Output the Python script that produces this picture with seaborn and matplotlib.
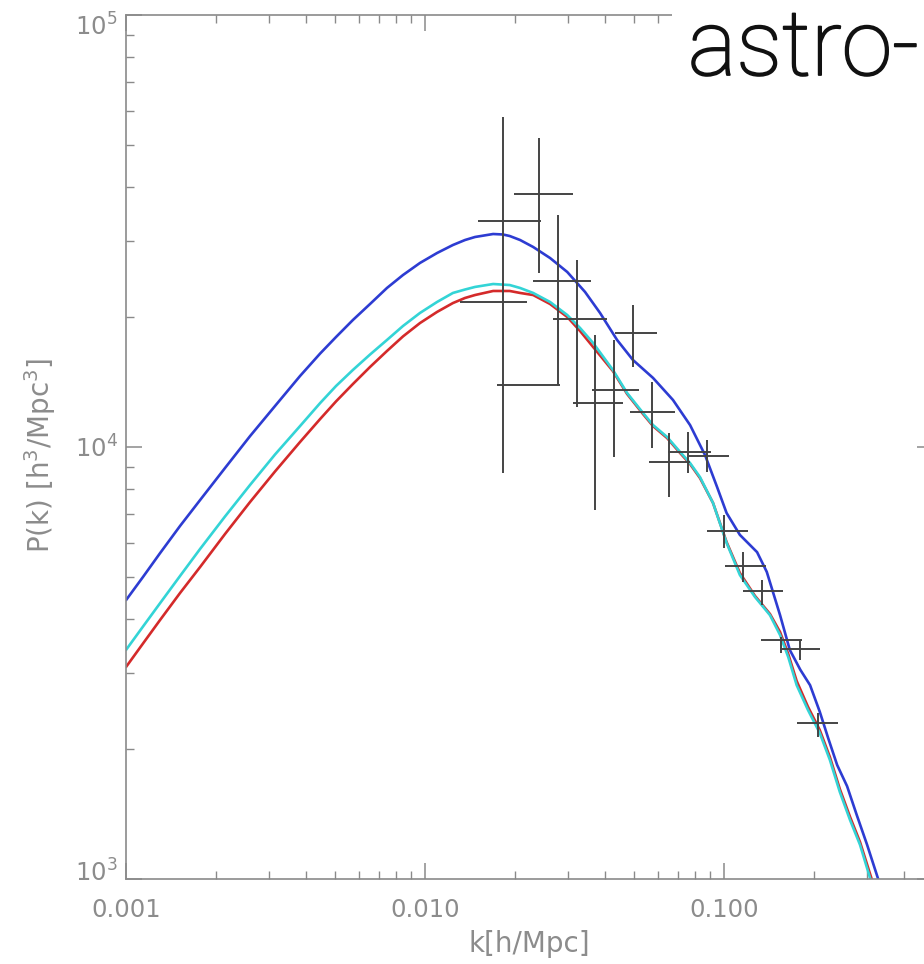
import numpy as np
import pandas as pd
import matplotlib
matplotlib.use("Agg")
import matplotlib.pyplot as plt
import matplotlib.ticker as mticker
import matplotlib.transforms as mtrans
import matplotlib.patheffects as pe
import seaborn as sns

# ---------------- model curves ----------------
k_blue = [0.00100, 0.00114, 0.00130, 0.001516, 0.00177, 0.002144, 0.00260, 0.00315, 0.00382, 0.00446,
          0.005039, 0.00574, 0.006549, 0.00746, 0.008441, 0.00962,
          0.01097, 0.0124, 0.01361, 0.0147, 0.0169, 0.01823, 0.0192, 0.0208, 0.0230, 0.0262,
          0.0299, 0.0343, 0.0385, 0.0439, 0.0496, 0.0579, 0.0675, 0.0770, 0.0864, 0.0948,
          0.102, 0.113, 0.129, 0.139, 0.154, 0.166, 0.180, 0.194, 0.209, 0.223,
          0.239, 0.258, 0.278, 0.301, 0.327, 0.354]
P_blue = [4420, 5003, 5680, 6564, 7540, 8942, 10600, 12440, 14600, 16460,
          17970, 19680, 21430, 23340, 25010, 26670,
          28120, 29350, 30140, 30630, 31120, 31040, 30790, 30140, 29040, 27380,
          25420, 22850, 20430, 17690, 15900, 14450, 12850, 11240, 9580, 8080,
          7035, 6260, 5710, 5140, 4080, 3390, 3050, 2810, 2440, 2120,
          1836, 1640, 1406, 1200, 1005, 857]

k_model = [0.00100, 0.00114, 0.00130, 0.001516, 0.00177, 0.002144, 0.00260, 0.00315, 0.00382, 0.00446,
           0.005039, 0.00574, 0.006549, 0.00746, 0.008441, 0.00962,
           0.01097, 0.0124, 0.01361, 0.0147, 0.0169, 0.0192, 0.0208, 0.0230, 0.0262, 0.0299,
           0.0330, 0.0365, 0.0425, 0.0474, 0.0536, 0.0579, 0.0645, 0.0713, 0.0770, 0.0831,
           0.0919, 0.102, 0.113, 0.127, 0.1425, 0.154, 0.164, 0.175, 0.191, 0.209,
           0.226, 0.244, 0.264, 0.285, 0.308, 0.333]
P_cyan = [3390, 3841, 4350, 5028, 5810, 6906, 8170, 9607, 11180, 12640,
          13840, 15080, 16370, 17690, 19060, 20430,
          21660, 22730, 23150, 23470, 23840, 23710, 23340, 22730, 21660, 20210,
          18860, 17410, 15080, 13340, 11990, 11240, 10550, 9740, 9180, 8520,
          7420, 6000, 5055, 4495, 4080, 3670, 3264, 2810, 2460, 2178,
          1886, 1590, 1369, 1200, 1005, 848]
P_red = [3095, 3509, 3977, 4592, 5276, 6290, 7460, 8776, 10270, 11610,
         12750, 13990, 15320, 16680, 18030, 19360,
         20540, 21540, 22130, 22480, 22970, 22970, 22730, 22480, 21430, 20000,
         18560, 17040, 14990, 13270, 11920, 11180, 10490, 9685, 9130, 8475,
         7420, 6026, 5110, 4520, 4106, 3730, 3318, 2873, 2502, 2213,
         1916, 1615, 1392, 1218, 1027, 866]

# ---------------- measured band powers ----------------
k_obs    = [0.01688, 0.01823, 0.02210, 0.02406, 0.02785, 0.03224, 0.03704, 0.04287, 0.04962, 0.05744,
            0.06547, 0.07580, 0.08771, 0.1000, 0.1157, 0.1340, 0.1551, 0.1796, 0.2063]
k_obs_lo = [0.01309, 0.01504, 0.01741, 0.01985, 0.02297, 0.02680, 0.03126, 0.03619, 0.04320, 0.04848,
            0.05613, 0.06497, 0.07580, 0.08771, 0.1008, 0.1157, 0.1330, 0.1539, 0.1754]
k_obs_hi = [0.02193, 0.02443, 0.02828, 0.03126, 0.03592, 0.04062, 0.04594, 0.05196, 0.05969, 0.06856,
            0.07696, 0.09045, 0.1039, 0.1203, 0.1382, 0.1575, 0.1823, 0.2095, 0.2406]
P_obs    = [21660, 33360, 13920, 38510, 24230, 19780, 12640, 13550, 18360, 12050,
            9230, 9740, 9530, 6390, 5300, 4640, 3575, 3410, 2300]
P_obs_lo = [21660, 8710, 13920, 25280, 13920, 12380, 7150, 9480, 15320, 9950,
            7660, 8710, 8750, 5840, 4870, 4310, 3340, 3210, 2130]
P_obs_hi = [21660, 58060, 13920, 51920, 34440, 27090, 18170, 17690, 21320, 14140,
            10780, 10830, 10380, 6960, 5710, 4920, 3630, 3575, 2420]

x_ticks = [0.001, 0.01, 0.1]
x_ticklabels = ["0.001", "0.010", "0.100"]
y_ticks = [1e3, 1e4, 1e5]
y_ticklabels = ["10$^3$", "10$^4$", "10$^5$"]

sns.set_theme(style="ticks")
plt.rcParams["font.family"] = ["DejaVu Sans"]
plt.rcParams["mathtext.default"] = "regular"

W, H = 924, 964
fig = plt.figure(figsize=(W / 100, H / 100), dpi=100)
fig.patch.set_facecolor("white")
ax = fig.add_axes([126 / W, (H - 879) / H, (933 - 126) / W, (879 - 15) / H])

df = pd.concat([
    pd.DataFrame({"k": k_model, "P": P_red, "model": "red"}),
    pd.DataFrame({"k": k_model, "P": P_cyan, "model": "cyan"}),
    pd.DataFrame({"k": k_blue, "P": P_blue, "model": "blue"}),
], ignore_index=True)
palette = {"red": "#d42a2a", "cyan": "#33d4d6", "blue": "#2d3cd2"}

ax.set_xscale("log")
ax.set_yscale("log")
sns.lineplot(data=df, x="k", y="P", hue="model", hue_order=["red", "cyan", "blue"],
             palette=palette, estimator=None, sort=False, linewidth=1.9,
             legend=False, ax=ax, zorder=2)
for ln in ax.get_lines():
    ln.set_solid_joinstyle("round")

k_obs_a = np.array(k_obs)
P_obs_a = np.array(P_obs)
xerr = [k_obs_a - np.array(k_obs_lo), np.array(k_obs_hi) - k_obs_a]
yerr = [P_obs_a - np.array(P_obs_lo), np.array(P_obs_hi) - P_obs_a]
ax.errorbar(k_obs, P_obs, xerr=xerr, yerr=yerr, fmt="none", ecolor="#444444",
            elinewidth=1.4, capsize=0, zorder=3)

ax.set_xlim(0.001, 0.5)
ax.set_ylim(1e3, 1e5)

ax.xaxis.set_major_locator(mticker.FixedLocator(x_ticks))
ax.xaxis.set_major_formatter(mticker.FixedFormatter(x_ticklabels))
ax.yaxis.set_major_locator(mticker.FixedLocator(y_ticks))
ax.yaxis.set_major_formatter(mticker.FixedFormatter(y_ticklabels))
ax.xaxis.set_minor_locator(mticker.LogLocator(base=10, subs=np.arange(2, 10), numticks=50))
ax.yaxis.set_minor_locator(mticker.LogLocator(base=10, subs=np.arange(2, 10), numticks=50))
ax.xaxis.set_minor_formatter(mticker.NullFormatter())
ax.yaxis.set_minor_formatter(mticker.NullFormatter())

gray = "#8a8a8a"
ax.tick_params(which="both", direction="in", top=True, right=True,
               labeltop=False, labelright=False, color=gray)
ax.tick_params(which="major", length=11.5, width=1.1, labelsize=17.5,
               labelcolor="#8c8c8c")
ax.tick_params(axis="x", which="major", pad=14)
ax.tick_params(axis="y", which="major", pad=6)
ax.tick_params(which="minor", length=5.5, width=1.0)
for s in ax.spines.values():
    s.set_color(gray)
    s.set_linewidth(1.2)

ax.set_xlabel("k[h/Mpc]", fontsize=20, color="#8c8c8c")
ax.set_ylabel("P(k) [h$^3$/Mpc$^3$]", fontsize=20, color="#8c8c8c")
ax.xaxis.set_label_coords(0.5, -(930 - 879) / 864)
ax.yaxis.set_label_coords(-(126 - 58) / 807, (879 - 455) / 864)

fig.text(688 / W, 1 - 75 / H, "astro-", fontsize=66, family=["Roboto", "DejaVu Sans"],
         weight="light", color="#111111", ha="left", va="baseline",
         path_effects=[pe.withStroke(linewidth=1.3, foreground="#111111")],
         bbox=dict(facecolor="white", edgecolor="none", pad=12))

fig.canvas.draw()
for lab, dy in zip(ax.yaxis.get_majorticklabels(), [8, 0, -9]):
    lab.set_transform(lab.get_transform() +
                      mtrans.ScaledTranslation(0, dy / 100, fig.dpi_scale_trans))

fig.savefig("out.png", dpi=100, facecolor="white")
